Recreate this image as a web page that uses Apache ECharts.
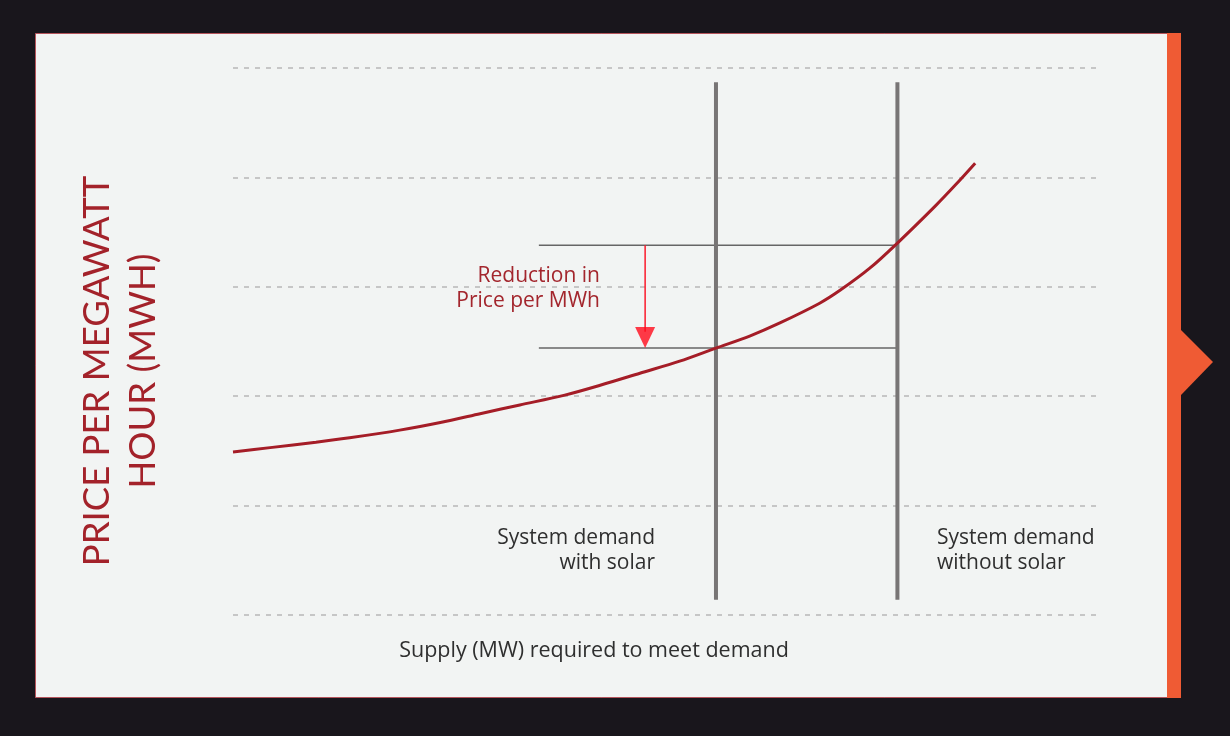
<!DOCTYPE html>
<html><head><meta charset="utf-8">
<script src="https://cdn.jsdelivr.net/npm/echarts@6/dist/echarts.min.js"></script>
<style>html,body{margin:0;padding:0;background:#19161c;}#c{width:1230px;height:736px;}</style>
</head><body><div id="c"></div>
<script>
// Supply curve (x: supply, y: price)
const curveX = [0, 4.3, 9.6, 13.5, 19.3, 24.0, 28.6, 33.2, 38.4, 42.5, 47.1, 51.7, 55.9, 59.8, 63.3, 67.9, 70.3, 73.7, 76.9, 81.3, 83.6, 85.9];
const curveY = [1.49, 1.53, 1.58, 1.62, 1.69, 1.76, 1.84, 1.92, 2.01, 2.10, 2.21, 2.32, 2.44, 2.55, 2.67, 2.85, 2.97, 3.17, 3.40, 3.74, 3.93, 4.13];
// demand levels
const demandWithSolar = 55.9;
const demandWithoutSolar = 76.9;
const demandLineY = [0.14, 4.87];
const priceHigh = 3.38;
const priceLow = 2.44;
const priceLineStartX = 35.4;
const arrowX = 47.7;
const yTicks = [0, 1, 2, 3, 4, 5];

const chart = echarts.init(document.getElementById('c'), null, {renderer: 'canvas'});
const FONT = 'Lato, "Noto Sans", sans-serif';
const FONT2 = '"Open Sans", Lato, sans-serif';
const option = {
  backgroundColor: '#19161c',
  animation: false,
  grid: {left: 233, right: 133, top: 68, bottom: 121},
  xAxis: {type: 'value', min: 0, max: 100, show: true,
    axisLine: {show: false}, axisTick: {show: false}, axisLabel: {show: false}, splitLine: {show: false}},
  yAxis: {type: 'value', min: yTicks[0], max: yTicks[yTicks.length-1], interval: 1,
    axisLine: {show: false}, axisTick: {show: false}, axisLabel: {show: false},
    splitLine: {show: true, lineStyle: {color: '#c6c6c6', width: 2, type: [5, 6]}}},
  graphic: [
    {type: 'rect', z: -10, shape: {x: 35.5, y: 33.5, width: 1132, height: 664},
      style: {fill: '#f2f4f3', stroke: '#b5545b', lineWidth: 1}},
    {type: 'rect', z: -9, shape: {x: 1167, y: 33, width: 14, height: 665},
      style: {fill: '#ef5b34'}},
    {type: 'polygon', z: -9, shape: {points: [[1181, 330], [1213, 362], [1181, 395]]},
      style: {fill: '#ef5b34'}},
    {type: 'text', x: 120, y: 371, rotation: Math.PI / 2, z: 10,
      style: {text: 'PRICE PER MEGAWATT\nHOUR (MWH)', fill: '#a3222a', font: '36.5px ' + FONT,
        align: 'center', verticalAlign: 'middle', lineHeight: 46}},
    {type: 'text', x: 600, y: 289, z: 10,
      style: {text: 'Reduction in\nPrice per MWh', fill: '#a3262d', font: '21px ' + FONT2,
        align: 'right', verticalAlign: 'middle', lineHeight: 25}},
    {type: 'text', x: 655, y: 551, z: 10,
      style: {text: 'System demand\nwith solar', fill: '#2f2f2f', font: '21px ' + FONT2,
        align: 'right', verticalAlign: 'middle', lineHeight: 25}},
    {type: 'text', x: 937, y: 551, z: 10,
      style: {text: 'System demand\nwithout solar', fill: '#2f2f2f', font: '21px ' + FONT2,
        align: 'left', verticalAlign: 'middle', lineHeight: 25}},
    {type: 'text', x: 594, y: 651, z: 10,
      style: {text: 'Supply (MW) required to meet demand', fill: '#2f2f2f', font: '21.5px ' + FONT2,
        align: 'center', verticalAlign: 'middle'}}
  ],
  series: [
    {type: 'line', name: 'high', data: [[priceLineStartX, priceHigh], [demandWithoutSolar, priceHigh]],
      symbol: 'none', lineStyle: {color: '#666666', width: 1.5}, z: 3},
    {type: 'line', name: 'low', data: [[priceLineStartX, priceLow], [demandWithoutSolar, priceLow]],
      symbol: 'none', lineStyle: {color: '#666666', width: 1.5}, z: 3},
    {type: 'line', name: 'with', data: [[demandWithSolar, demandLineY[0]], [demandWithSolar, demandLineY[1]]],
      symbol: 'none', lineStyle: {color: '#787575', width: 4}, z: 4},
    {type: 'line', name: 'without', data: [[demandWithoutSolar, demandLineY[0]], [demandWithoutSolar, demandLineY[1]]],
      symbol: 'none', lineStyle: {color: '#787575', width: 4}, z: 4},
    {type: 'line', name: 'curve', data: curveX.map((x, i) => [x, curveY[i]]),
      smooth: 0.3, symbol: 'none', lineStyle: {color: '#a51d27', width: 3}, z: 5},
    {type: 'line', name: 'arrow', data: [[arrowX, priceHigh], [arrowX, priceLow + 0.15]],
      symbol: 'none', lineStyle: {color: '#fb1a2b', width: 1.5}, z: 6},
    {type: 'scatter', name: 'arrowhead', data: [[arrowX, priceLow]],
      symbol: 'triangle', symbolSize: [20, 21], symbolRotate: 180, symbolOffset: [0, -10.5],
      itemStyle: {color: '#ff0a1a'}, z: 7}
  ]
};
chart.setOption(option);
</script>
</body></html>
